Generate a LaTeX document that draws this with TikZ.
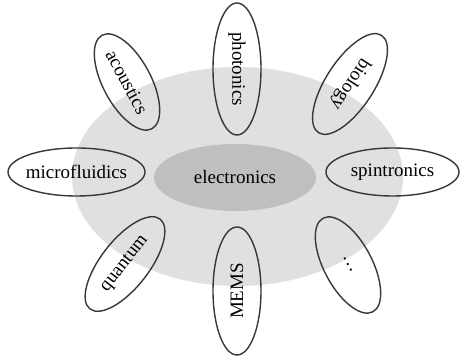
\documentclass[tikz,border=0pt]{standalone}
\usepackage{fontspec}
\setmainfont{Liberation Serif}
\usetikzlibrary{shapes.geometric}
\definecolor{field}{gray}{0.88}
\definecolor{core}{gray}{0.75}
\definecolor{rim}{gray}{0.22}
\tikzset{
  topic/.style = {
    ellipse, draw=rim, line width=0.8pt,
    minimum height=0.96cm, inner sep=0pt
  },
  hub/.style = {
    ellipse, fill=core, minimum width=3.24cm, minimum height=1.34cm
  }
}

\begin{document}
\begin{tikzpicture}[font=\fontsize{10.8}{13}\selectfont]
  \useasboundingbox (0,0) rectangle (9.2,7.14);
  \fill[field] (4.75,3.61) ellipse (3.31 and 2.19);
  \node[hub] (elec) at (4.70,3.59) {electronics};
  \foreach \nm/\cx/\cy/\rot/\len/\lbl in {%
      phot/4.74/5.76/-90/2.64/photonics,
      bio/7.00/5.46/-123/2.32/biology,
      spin/7.85/3.70/0/2.66/spintronics,
      more/6.96/1.84/118/2.12/\ldots,
      mems/4.74/1.32/90/2.56/MEMS,
      quant/2.50/1.86/52/2.28/quantum,
      fluid/1.53/3.70/0/2.74/microfluidics,
      acou/2.54/5.50/-62/2.12/acoustics} {%
    \node[topic,rotate=\rot,minimum width=\len cm] (\nm) at (\cx,\cy) {\makebox[0pt]{\lbl}};
  }
\end{tikzpicture}
\end{document}
